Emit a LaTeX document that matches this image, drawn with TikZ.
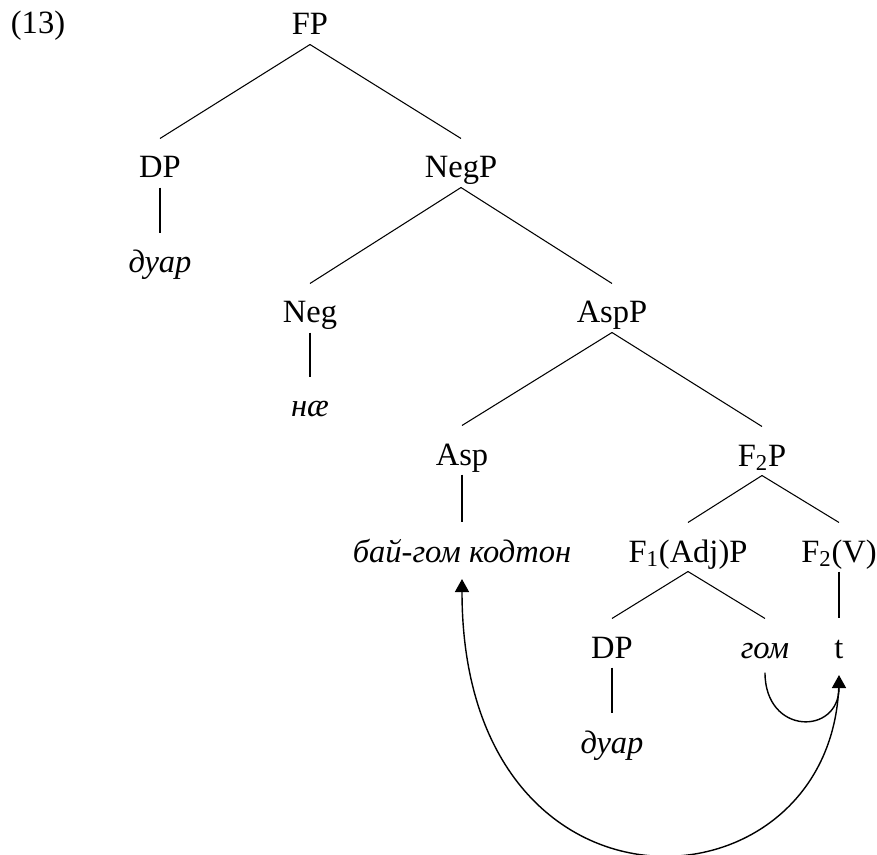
\documentclass[tikz,border=0pt]{standalone}
\usepackage{fontspec}
\setmainfont{Liberation Serif}
\usetikzlibrary{arrows.meta}

\begin{document}
\begin{tikzpicture}[x=0.02cm, y=-0.02cm, line width=0.6pt,
    every node/.style={anchor=base, inner sep=0pt, text height=0.78cm, text depth=0.18cm,
        font=\fontsize{18.5}{22}\selectfont},
    move/.style={line width=0.8pt, -{Triangle[length=0.26cm,width=0.28cm]}, shorten >=0.15cm}]
\useasboundingbox (0,0) rectangle (877,855);

\node (ex) at (38,34) {(13)};
\node (fp) at (310,35) {FP};
\node (dp) at (160,178) {DP};
\node (negp) at (461,178) {NegP};
\node (duar) at (160,273) {\textit{дуар}};
\node (neg) at (310,323) {Neg};
\node (aspp) at (612,323) {AspP};
\node (nae) at (310,417) {\textit{нæ}};
\node (asp) at (462,465) {Asp};
\node (ftwop) at (762,466) {F\textsubscript{2}P};
\node (verb) at (462,562) {\textit{бай-гом кодтон}};
\node (fonep) at (688,562) {F\textsubscript{1}(Adj)P};
\node (ftwov) at (839,562) {F\textsubscript{2}(V)};
\node (dptwo) at (612,658) {DP};
\node (gom) at (765,658) {\textit{гом}};
\node (trace) at (839,658) {t};
\node (duartwo) at (612,753) {\textit{дуар}};

\draw (fp.south) -- (dp.north);
\draw (fp.south) -- (negp.north);
\draw (dp.south) -- (duar.north);
\draw (negp.south) -- (neg.north);
\draw (negp.south) -- (aspp.north);
\draw (neg.south) -- (nae.north);
\draw (aspp.south) -- (asp.north);
\draw (aspp.south) -- (ftwop.north);
\draw (asp.south) -- (verb.north);
\draw (ftwop.south) -- (fonep.north);
\draw (ftwop.south) -- (ftwov.north);
\draw (fonep.south) -- (dptwo.north);
\draw (fonep.south) -- (gom.north);
\draw (ftwov.south) -- (trace.north);
\draw (dptwo.south) -- (duartwo.north);

\draw[move, shorten <=0.1cm] (gom.south) .. controls +(0,68) and +(0,68) .. (trace.south);
\draw[move, shorten <=0.2cm] (trace.south) .. controls +(0,250) and +(0,370) .. (verb.south);
\end{tikzpicture}
\end{document}
